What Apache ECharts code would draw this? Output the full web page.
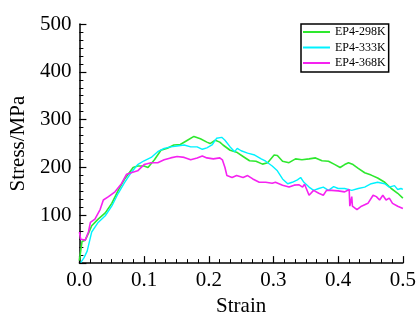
<!DOCTYPE html>
<html><head><meta charset="utf-8">
<script src="https://cdn.jsdelivr.net/npm/echarts@6/dist/echarts.min.js"></script>
<style>html,body{margin:0;padding:0;background:#fff}#c{width:419px;height:322px}</style>
</head><body><div id="c"></div>
<script>
const seriesNames = ['EP4-298K', 'EP4-333K', 'EP4-368K'];
const xTicks = [0, 0.1, 0.2, 0.3, 0.4, 0.5];
const yTicks = [100, 200, 300, 400, 500];

const green298 = [[0,5],[0.004,45],[0.009,48],[0.015,65],[0.019,78],[0.029,92],[0.04,105],[0.05,125],[0.06,152],[0.07,176],[0.083,200],[0.09,203],[0.1,203],[0.106,200],[0.116,216],[0.126,236],[0.136,240],[0.146,247],[0.156,248],[0.167,257],[0.177,265],[0.187,260],[0.197,253],[0.202,250],[0.21,257],[0.217,253],[0.222,247],[0.233,236],[0.243,232],[0.253,223],[0.263,214],[0.273,213],[0.283,207],[0.291,210],[0.301,226],[0.306,225],[0.314,213],[0.324,210],[0.334,218],[0.344,216],[0.355,218],[0.365,220],[0.375,214],[0.385,213],[0.395,206],[0.403,200],[0.41,206],[0.416,210],[0.423,206],[0.431,198],[0.441,189],[0.451,184],[0.461,178],[0.472,169],[0.482,156],[0.492,146],[0.5,136]];
const cyan333 = [[0.002,1],[0.007,11],[0.012,25],[0.019,65],[0.029,85],[0.04,99],[0.05,119],[0.06,146],[0.07,169],[0.08,189],[0.09,206],[0.1,214],[0.111,221],[0.121,233],[0.131,240],[0.141,243],[0.151,245],[0.162,247],[0.172,243],[0.182,243],[0.19,238],[0.197,241],[0.205,247],[0.212,261],[0.22,263],[0.225,257],[0.233,243],[0.24,233],[0.244,240],[0.25,235],[0.26,230],[0.271,226],[0.281,218],[0.288,213],[0.298,203],[0.306,193],[0.314,176],[0.322,166],[0.329,169],[0.337,174],[0.342,179],[0.347,169],[0.355,159],[0.362,152],[0.37,156],[0.377,159],[0.385,152],[0.393,160],[0.4,156],[0.41,156],[0.421,152],[0.431,156],[0.441,159],[0.451,166],[0.461,169],[0.472,166],[0.479,159],[0.487,162],[0.492,154],[0.497,156],[0.5,154]];
const magenta368 = [[0,65],[0.002,50],[0.004,52],[0.009,48],[0.014,65],[0.017,85],[0.024,92],[0.032,112],[0.037,132],[0.045,139],[0.055,149],[0.065,166],[0.073,186],[0.08,189],[0.09,193],[0.1,206],[0.111,210],[0.121,210],[0.131,216],[0.141,220],[0.151,223],[0.162,221],[0.172,216],[0.182,220],[0.19,224],[0.197,220],[0.207,218],[0.217,220],[0.221,216],[0.225,200],[0.228,183],[0.236,179],[0.243,183],[0.253,179],[0.26,183],[0.268,176],[0.278,169],[0.288,169],[0.298,167],[0.303,169],[0.314,163],[0.324,159],[0.332,163],[0.339,164],[0.345,159],[0.348,165],[0.355,142],[0.362,152],[0.37,146],[0.377,142],[0.382,152],[0.39,152],[0.4,151],[0.41,149],[0.417,154],[0.418,119],[0.421,139],[0.422,119],[0.429,112],[0.436,119],[0.446,125],[0.454,142],[0.459,139],[0.464,132],[0.469,142],[0.474,132],[0.479,136],[0.484,125],[0.492,119],[0.5,114]];

const colors = ['#2ee82e', '#00f2ff', '#f522f0'];
const font = 'Liberation Serif';
const chart = echarts.init(document.getElementById('c'), null, {renderer: 'canvas'});
const axisCommon = {
  axisLine: {show: true, lineStyle: {color: '#000', width: 1.5}},
  axisTick: {show: true, inside: true, length: 7, lineStyle: {color: '#000', width: 1.2}},
  minorTick: {show: true, splitNumber: 6, length: 4, lineStyle: {color: '#000', width: 1}},
  splitLine: {show: false},
  nameTextStyle: {fontFamily: font, fontSize: 21, color: '#000'}
};
chart.setOption({
  animation: false,
  grid: {left: 77, right: 14, top: 24, bottom: 49},
  legend: {
    data: seriesNames, orient: 'vertical', left: 301, top: 24,
    backgroundColor: '#fff', borderColor: '#000', borderWidth: 1.5,
    icon: 'rect', itemWidth: 27, itemHeight: 2, itemGap: 3.5,
    padding: [2, 3, 3, 2],
    textStyle: {fontFamily: font, fontSize: 12, color: '#000', lineHeight: 12}
  },
  xAxis: Object.assign({
    type: 'value', min: xTicks[0], max: xTicks[xTicks.length - 1], interval: 0.1,
    name: 'Strain', nameLocation: 'middle', nameGap: 30,
    axisLabel: {fontFamily: font, fontSize: 21, color: '#000', margin: 7,
      formatter: v => v.toFixed(1)}
  }, axisCommon),
  yAxis: Object.assign({
    type: 'value', min: 0, max: yTicks[yTicks.length - 1], interval: 100,
    name: 'Stress/MPa', nameLocation: 'middle', nameGap: 49,
    axisLabel: {fontFamily: font, fontSize: 21, color: '#000', margin: 8,
      formatter: v => (yTicks.includes(v) ? String(v) : '')}
  }, axisCommon),
  series: [
    {name: seriesNames[0], type: 'line', data: green298, symbol: 'none', lineStyle: {width: 1.6, color: colors[0]}, itemStyle: {color: colors[0]}},
    {name: seriesNames[1], type: 'line', data: cyan333, symbol: 'none', lineStyle: {width: 1.4, color: colors[1]}, itemStyle: {color: colors[1]}},
    {name: seriesNames[2], type: 'line', data: magenta368, symbol: 'none', lineStyle: {width: 1.6, color: colors[2]}, itemStyle: {color: colors[2]}}
  ]
});
</script></body></html>
